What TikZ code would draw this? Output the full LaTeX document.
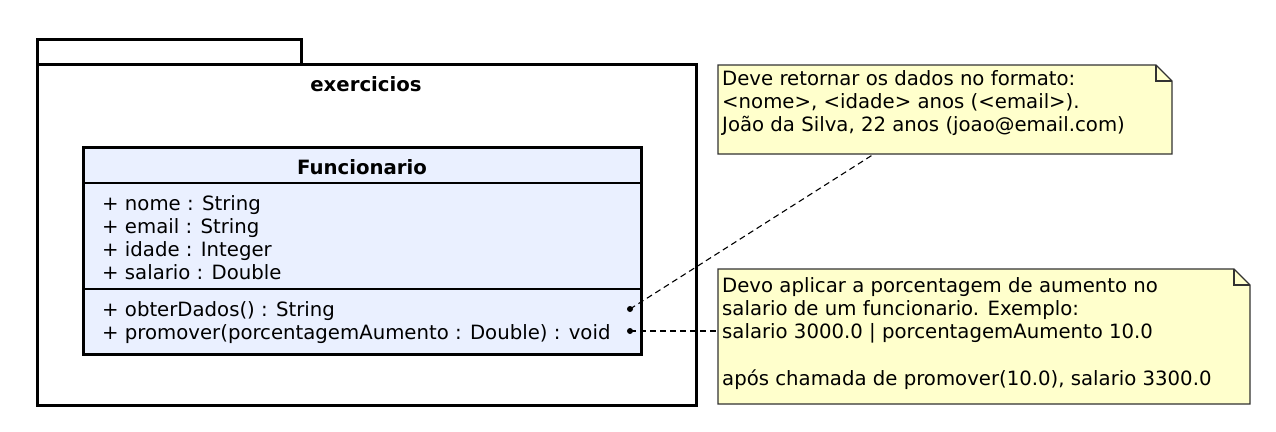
\documentclass[tikz,border=0pt]{standalone}
\usepackage{fontspec}
\setmainfont{DejaVu Sans}
\definecolor{classfill}{RGB}{234,240,255}
\definecolor{notefill}{RGB}{255,255,204}
\definecolor{noteline}{RGB}{50,50,50}
\begin{document}
\begin{tikzpicture}[x=1pt,y=-1pt,
  txt/.style={anchor=base west,inner sep=0pt,font=\fontsize{19.7}{23}\selectfont},
  ttl/.style={anchor=base,inner sep=0pt,font=\fontsize{19.7}{23}\selectfont\bfseries},
  thickbox/.style={draw=black,line width=3pt},
  notebox/.style={draw=noteline,line width=1.2pt,fill=notefill},
  conn/.style={draw=black,line width=1.1pt,dash pattern=on 6pt off 4pt},
  dotm/.style={fill=black}]
\useasboundingbox (0,0) rectangle (1276,431);
% package
\draw[thickbox] (37,64) rectangle (301,39);
\draw[thickbox] (37,64) rectangle (696,405);
\node[ttl] (pkgtitle) at (366,91.5) {exercicios};
% class
\draw[thickbox,fill=classfill] (83,147) rectangle (641,354);
\draw[line width=1.2pt] (83,183) -- (641,183);
\draw[line width=1.2pt] (83,289) -- (641,289);
\node[ttl] (cname) at (362,174) {Funcionario};
\node[txt] (a1) at (102,210) {+ nome : String};
\node[txt] (a2) at (102,233) {+ email : String};
\node[txt] (a3) at (102,256) {+ idade : Integer};
\node[txt] (a4) at (102,279) {+ salario : Double};
\node[txt] (m1) at (102,316) {+ obterDados() : String};
\node[txt] (m2) at (102,339) {+ promover(porcentagemAumento : Double) : void};
\coordinate (d1) at (630,309);
\coordinate (d2) at (630,331);
% note 1
\draw[notebox] (718,65) -- (1156,65) -- (1172,81) -- (1172,154) -- (718,154) -- cycle;
\draw[draw=noteline,line width=1.2pt] (1156,65) -- (1156,81) -- (1172,81);
\coordinate (n1) at (874,154);
\node[txt] (t11) at (722,85) {Deve retornar os dados no formato:};
\node[txt] (t12) at (722,108) {<nome>, <idade> anos (<email>).};
\node[txt] (t13) at (722,131) {João da Silva, 22 anos (joao@email.com)};
% note 2
\draw[notebox] (718,269) -- (1234,269) -- (1250,285) -- (1250,404) -- (718,404) -- cycle;
\draw[draw=noteline,line width=1.2pt] (1234,269) -- (1234,285) -- (1250,285);
\coordinate (n2) at (718,331);
\node[txt] (t21) at (722,292) {Devo aplicar a porcentagem de aumento no};
\node[txt] (t22) at (722,315) {salario de um funcionario. Exemplo:};
\node[txt] (t23) at (722,338) {salario 3000.0 | porcentagemAumento 10.0};
\node[txt] (t24) at (722,385) {após chamada de promover(10.0), salario 3300.0};
% connectors
\draw[conn] (d1) -- (n1);
\draw[conn] (d2) -- (n2);
\fill[dotm] (d1) circle (3pt);
\fill[dotm] (d2) circle (3pt);
\end{tikzpicture}
\end{document}
